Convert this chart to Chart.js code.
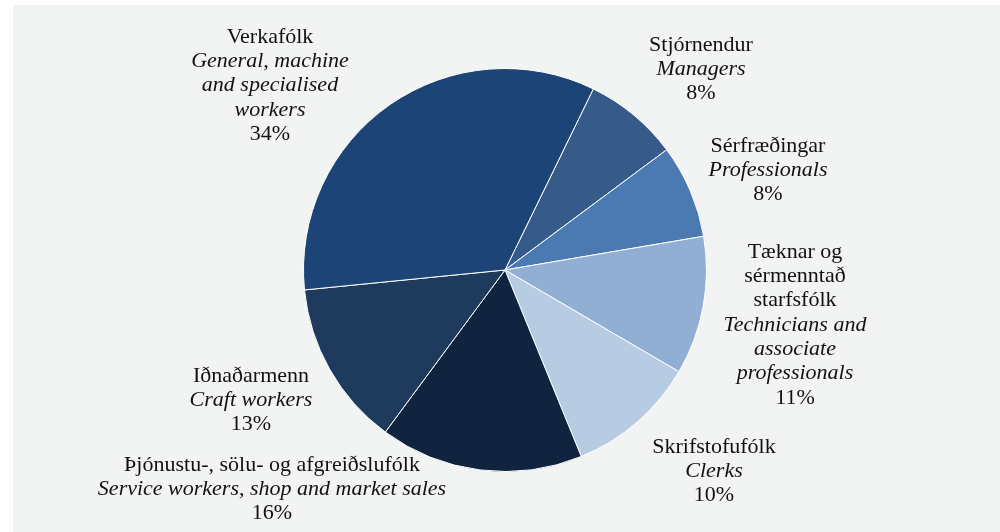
<!DOCTYPE html>
<html>
<head>
<meta charset="utf-8">
<script src="https://cdn.jsdelivr.net/npm/chart.js@4.4.1/dist/chart.umd.min.js"></script>
<style>
  html, body { margin: 0; padding: 0; background: #ffffff; width: 1000px; height: 532px; overflow: hidden; }
  #panel { position: absolute; left: 13px; top: 5px; width: 987px; height: 527px; background: #f2f3f3; }
  canvas { display: block; }
</style>
</head>
<body>
<div id="panel"><canvas id="pie" width="987" height="527"></canvas></div>
<script>
// Occupational groups, Icelandic name lines and English name lines
const namesIs = [
  ['Stjórnendur'],
  ['Sérfræðingar'],
  ['Tæknar og', 'sérmenntað', 'starfsfólk'],
  ['Skrifstofufólk'],
  ['Þjónustu-, sölu- og afgreiðslufólk'],
  ['Iðnaðarmenn'],
  ['Verkafólk']
];
const namesEn = [
  ['Managers'],
  ['Professionals'],
  ['Technicians and', 'associate', 'professionals'],
  ['Clerks'],
  ['Service workers, shop and market sales'],
  ['Craft workers'],
  ['General, machine', 'and specialised', 'workers']
];
// Share of each group, percent
const shares = [7.6, 7.5, 11.1, 10.4, 16.3, 13.3, 33.8];

const sliceColors = ['#365b8a', '#4b7ab2', '#91afd3', '#b7cbe3', '#10233f', '#1e3a5c', '#1c4477'];

// Label anchor: offset of the first text line from the pie centre
const labelOffsets = [
  [196, -225], [263, -124], [290, -18], [209, 177], [-233, 195], [-254, 106], [-235, -233]
];

const LINE_H = 24.3;
const FONT_FAMILY = '"Liberation Serif", "Times New Roman", serif';

const pieLabels = {
  id: 'pieLabels',
  afterDraw(chart) {
    const ctx = chart.ctx;
    const arc0 = chart.getDatasetMeta(0).data[0];
    const cx = arc0.x, cy = arc0.y;
    const total = shares.reduce((a, b) => a + b, 0);
    ctx.save();
    ctx.fillStyle = '#111111';
    ctx.textAlign = 'center';
    ctx.textBaseline = 'middle';
    shares.forEach((v, i) => {
      const lines = [];
      namesIs[i].forEach(t => lines.push({ t, italic: false }));
      namesEn[i].forEach(t => lines.push({ t, italic: true }));
      lines.push({ t: Math.round(v / total * 100) + '%', italic: false });
      const x = cx + labelOffsets[i][0];
      let y = cy + labelOffsets[i][1];
      lines.forEach(l => {
        ctx.font = (l.italic ? 'italic ' : '') + '22px ' + FONT_FAMILY;
        ctx.fillText(l.t, x, y);
        y += LINE_H;
      });
    });
    ctx.restore();
  }
};

new Chart(document.getElementById('pie'), {
  type: 'pie',
  data: {
    labels: namesIs.map(n => n.join(' ')),
    datasets: [{
      data: shares,
      backgroundColor: sliceColors,
      borderColor: '#ffffff',
      borderWidth: 1
    }]
  },
  options: {
    responsive: false,
    animation: false,
    rotation: 26,
    layout: { padding: { left: 200, right: 203, top: 63, bottom: 60 } },
    plugins: {
      legend: { display: false },
      tooltip: { enabled: false }
    }
  },
  plugins: [pieLabels]
});
</script>
</body>
</html>
